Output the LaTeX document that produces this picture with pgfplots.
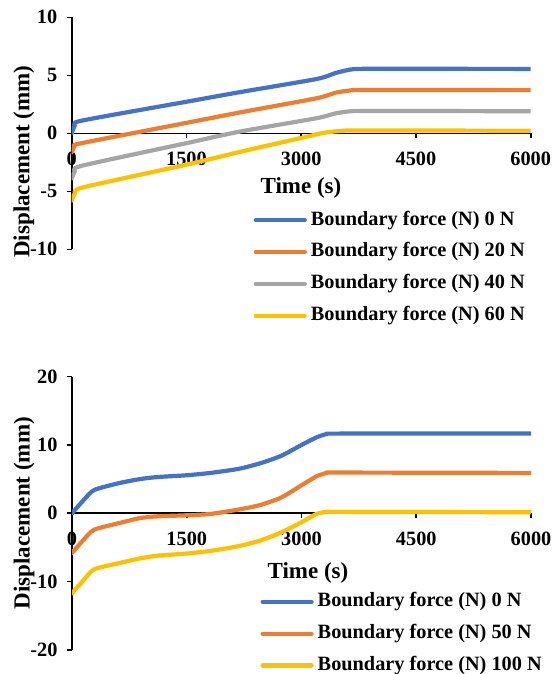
\documentclass[border=0pt]{standalone}
\usepackage{fontspec}
\setmainfont{Liberation Serif}
\usepackage{pgfplots}
\pgfplotsset{compat=1.18}
\definecolor{cblue}{HTML}{4472C4}
\definecolor{corange}{HTML}{ED7D31}
\definecolor{cgray}{HTML}{A5A5A5}
\definecolor{cgold}{HTML}{FFC000}
\newcommand{\labfont}{\fontsize{23}{27}\selectfont\bfseries}
\pgfplotsset{
  mystyle/.style={
    scale only axis, width=459pt, xmin=0, xmax=6000,
    axis x line=middle, axis y line=left,
    axis line style={-, line width=1.6pt, black},
    xtick={0,1500,3000,4500,6000},
    tick align=outside, major tick length=5pt,
    major tick style={line width=1.6pt, black},
    hide obscured x ticks=false, hide obscured y ticks=false,
    /pgf/number format/assume math mode=true,
    /pgf/number format/set thousands separator={},
    tick label style={font=\fontsize{20.3}{24}\selectfont\bfseries},
    xticklabel style={yshift=-10pt},
    yticklabel style={xshift=-6pt},
    legend cell align=left,
    legend image code/.code={\draw[##1, line width=4.2pt, line cap=round] (0pt,0pt) -- (49pt,0pt); \path (53pt,0pt);},
    legend style={draw=none, fill=none, inner sep=0pt, outer sep=0pt, anchor=north west,
      font=\fontsize{20.3}{24}\selectfont\bfseries, row sep=13.3pt,
      nodes={inner sep=0pt, text height=14pt, text depth=4.5pt}},
    every axis plot/.append style={line width=4.2pt, no markers, smooth, tension=0.4, line join=round, line cap=round},
  }
}
\begin{document}
\begin{tikzpicture}
\useasboundingbox (0pt,0pt) rectangle (552pt,-674pt);
\begin{axis}[mystyle, at={(71.7pt,-249.3pt)}, anchor=south west, height=232pt,
  ymin=-10, ymax=10, ytick={-10,-5,0,5,10},
  xlabel={Time (s)}, ylabel={Displacement (mm)},
  every axis x label/.style={at={(axis description cs:0.4996,0.2655)}, anchor=center, font=\labfont},
  every axis y label/.style={at={(axis description cs:-0.104,0.378)}, rotate=90, anchor=center, font=\labfont},
  legend style={at={(axis description cs:0.3965,0.165)}}]
\addplot[cblue] coordinates {(0,0) (40,0.65) (130,1.09) (1500,2.72) (2200,3.55) (3200,4.68) (3450,5.2) (3650,5.5) (3900,5.56) (6000,5.55)};
\addlegendentry{Boundary force (N) 0 N}
\addplot[corange] coordinates {(0,-1.65) (40,-1.1) (120,-0.86) (1500,0.9) (2200,1.8) (3200,3.02) (3450,3.5) (3650,3.7) (3900,3.74) (6000,3.72)};
\addlegendentry{Boundary force (N) 20 N}
\addplot[cgray] coordinates {(0,-3.9) (40,-3.3) (130,-2.8) (1500,-0.85) (2200,0.15) (3200,1.3) (3450,1.72) (3650,1.9) (3900,1.93) (6000,1.9)};
\addlegendentry{Boundary force (N) 40 N}
\addplot[cgold] coordinates {(0,-5.8) (40,-5.2) (150,-4.66) (1500,-2.7) (2200,-1.6) (3000,-0.4) (3300,0.05) (3550,0.22) (3800,0.25) (6000,0.22)};
\addlegendentry{Boundary force (N) 60 N}
\end{axis}
\begin{axis}[mystyle, at={(72pt,-650pt)}, anchor=south west, height=273.5pt,
  ymin=-20, ymax=20, ytick={-20,-10,0,10,20},
  xlabel={Time (s)}, ylabel={Displacement (mm)},
  every axis x label/.style={at={(axis description cs:0.514,0.280)}, anchor=center, font=\labfont},
  every axis y label/.style={at={(axis description cs:-0.1046,0.5)}, rotate=90, anchor=center, font=\labfont},
  legend style={at={(axis description cs:0.4107,0.21)}}]
\addplot[cblue] coordinates {(0,0) (150,1.9) (290,3.4) (613,4.4) (890,5.0) (1120,5.3) (1490,5.55) (1812,5.9) (2181,6.5) (2458,7.3) (2735,8.4) (3002,10.0) (3196,11.1) (3334,11.6) (3500,11.65) (6000,11.65)};
\addlegendentry{Boundary force (N) 0 N}
\addplot[corange] coordinates {(0,-5.8) (150,-3.9) (290,-2.4) (613,-1.45) (890,-0.7) (1120,-0.45) (1490,-0.3) (1812,-0.1) (2181,0.55) (2458,1.2) (2735,2.3) (3002,4.1) (3196,5.4) (3334,5.9) (3500,5.95) (6000,5.9)};
\addlegendentry{Boundary force (N) 50 N}
\addplot[cgold] coordinates {(0,-11.7) (150,-9.8) (290,-8.2) (613,-7.3) (890,-6.6) (1120,-6.2) (1490,-5.9) (1812,-5.5) (2181,-4.8) (2458,-4.0) (2735,-2.8) (3002,-1.3) (3196,-0.1) (3334,0.2) (3500,0.2) (6000,0.15)};
\addlegendentry{Boundary force (N) 100 N}
\end{axis}
\end{tikzpicture}
\end{document}
